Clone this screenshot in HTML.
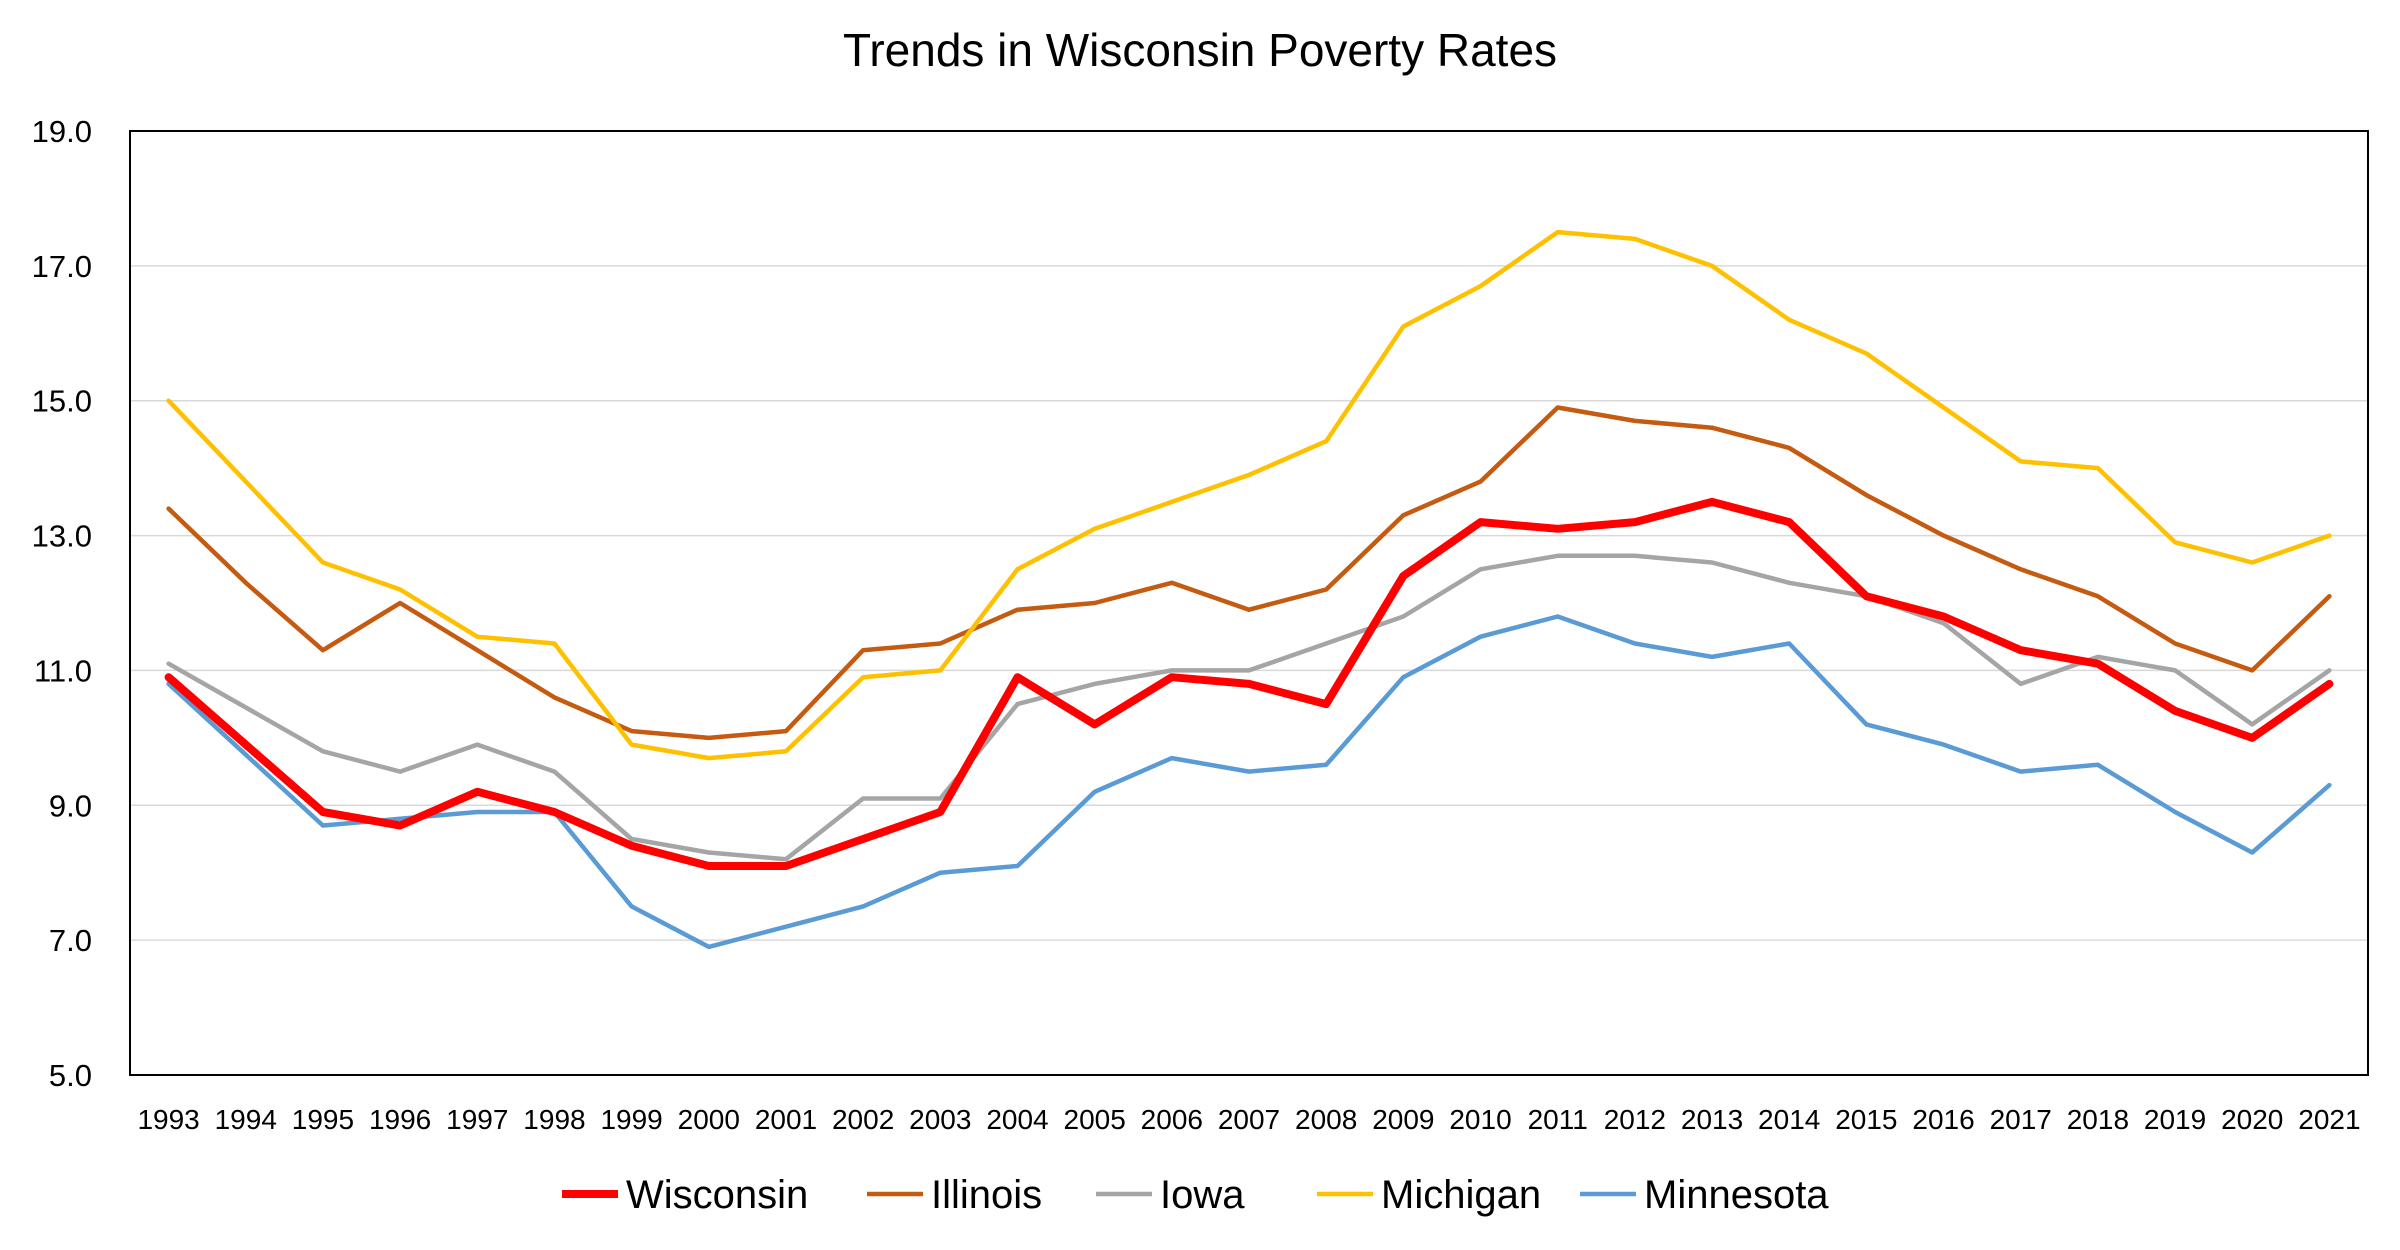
<!DOCTYPE html>
<html><head><meta charset="utf-8"><style>
html,body{margin:0;padding:0;background:#fff;}
svg{display:block;font-family:"Liberation Sans",sans-serif;}
</style></head><body>
<svg id="chart" width="2400" height="1250">
<text x="1200" y="66" font-size="46" text-anchor="middle" fill="#000">Trends in Wisconsin Poverty Rates</text>
<g id="grid"></g><g id="axes"></g><g id="series"></g><g id="legend"></g>
</svg>
<script>
const years=[1993,1994,1995,1996,1997,1998,1999,2000,2001,2002,2003,2004,2005,2006,2007,2008,2009,2010,2011,2012,2013,2014,2015,2016,2017,2018,2019,2020,2021];
const wisconsin=[10.9,9.9,8.9,8.7,9.2,8.9,8.4,8.1,8.1,8.5,8.9,10.9,10.2,10.9,10.8,10.5,12.4,13.2,13.1,13.2,13.5,13.2,12.1,11.8,11.3,11.1,10.4,10.0,10.8];
const illinois=[13.4,12.3,11.3,12.0,11.3,10.6,10.1,10.0,10.1,11.3,11.4,11.9,12.0,12.3,11.9,12.2,13.3,13.8,14.9,14.7,14.6,14.3,13.6,13.0,12.5,12.1,11.4,11.0,12.1];
const iowa=[11.1,10.45,9.8,9.5,9.9,9.5,8.5,8.3,8.2,9.1,9.1,10.5,10.8,11.0,11.0,11.4,11.8,12.5,12.7,12.7,12.6,12.3,12.1,11.7,10.8,11.2,11.0,10.2,11.0];
const michigan=[15.0,13.8,12.6,12.2,11.5,11.4,9.9,9.7,9.8,10.9,11.0,12.5,13.1,13.5,13.9,14.4,16.1,16.7,17.5,17.4,17.0,16.2,15.7,14.9,14.1,14.0,12.9,12.6,13.0];
const minnesota=[10.8,9.75,8.7,8.8,8.9,8.9,7.5,6.9,7.2,7.5,8.0,8.1,9.2,9.7,9.5,9.6,10.9,11.5,11.8,11.4,11.2,11.4,10.2,9.9,9.5,9.6,8.9,8.3,9.3];
const yTicks=[5,7,9,11,13,15,17,19];
const seriesNames=["Wisconsin","Illinois","Iowa","Michigan","Minnesota"];
const seriesColors=["#ff0000","#c55a11","#a5a5a5","#ffc000","#5b9bd5"];

const NS="http://www.w3.org/2000/svg";
const L=130,R=2368,T=131,B=1075,yMin=5,yMax=19;
const band=(R-L)/years.length;
const x=i=>L+band*(i+0.5);
const y=v=>B-(v-yMin)/(yMax-yMin)*(B-T);
function mk(tag,attrs,parent){const e=document.createElementNS(NS,tag);for(const k in attrs)e.setAttribute(k,attrs[k]);parent.appendChild(e);return e;}
const grid=document.getElementById('grid'),axes=document.getElementById('axes'),ser=document.getElementById('series'),leg=document.getElementById('legend');
yTicks.forEach(t=>{
 if(t>yMin&&t<yMax){const g=mk('line',{x1:L,x2:R,y1:y(t),y2:y(t),stroke:'#d9d9d9','stroke-width':1.5},grid);
 
 }
 const tx=mk('text',{x:92,y:y(t)+11,'font-size':31,'text-anchor':'end',fill:'#000'},axes);
 tx.textContent=t.toFixed(1);
 
 
});
const box=mk('rect',{x:L,y:T,width:R-L,height:B-T,fill:'none',stroke:'#000','stroke-width':2},axes);


years.forEach((yr,i)=>{
 const tx=mk('text',{x:x(i),y:1129,'font-size':28,'text-anchor':'middle',fill:'#000'},axes);
 tx.textContent=yr;
 
 
});
const data=[wisconsin,illinois,iowa,michigan,minnesota];
const order=[1,2,3,4,0];
order.forEach(s=>{
 const d=data[s].map((v,i)=>(i?'L':'M')+x(i).toFixed(1)+','+y(v).toFixed(1)).join('');
 const p=mk('path',{d:d,fill:'none',stroke:seriesColors[s],'stroke-width':s===0?8:4.5,'stroke-linejoin':'round','stroke-linecap':'round'},ser);
 
 
});
const legX=[562,867,1096,1317,1580];
seriesNames.forEach((n,s)=>{
 const g=mk('g',{},leg);
 
 
 mk('line',{x1:legX[s],x2:legX[s]+56,y1:1194,y2:1194,stroke:seriesColors[s],'stroke-width':s===0?8:4.5},g);
 const t=mk('text',{x:legX[s]+64,y:1208,'font-size':40,fill:'#000'},g);
 t.textContent=n;
});
</script>
</body></html>
